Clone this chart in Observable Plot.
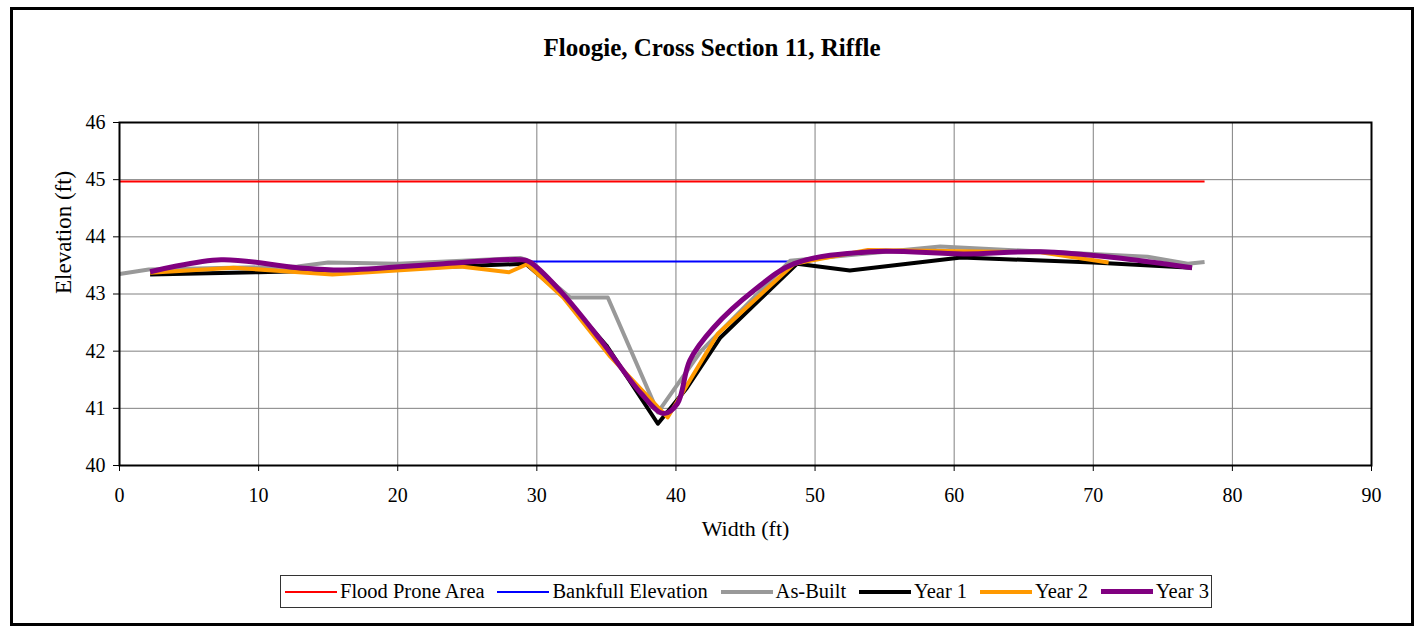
<!DOCTYPE html>
<html>
<head>
<meta charset="utf-8">
<script src="https://cdn.jsdelivr.net/npm/d3@7"></script>
<script src="https://cdn.jsdelivr.net/npm/@observablehq/plot@0.6"></script>
<style>
  html, body { margin: 0; padding: 0; background: #fff; }
  #wrap { position: relative; width: 1416px; height: 629px; overflow: hidden; font-family: "Liberation Serif", "Times New Roman", serif; }
  #outer { position: absolute; left: 10px; top: 7px; width: 1404px; height: 619px; box-sizing: border-box; border: 3px solid #000; }
  #title { position: absolute; left: 10px; width: 1404px; top: 34px; text-align: center; font-weight: bold; font-size: 25px; color: #000; }
  #chart { position: absolute; left: 0; top: 0; }
  #legend { position: absolute; left: 280px; top: 575px; width: 932px; height: 33px; box-sizing: border-box; border: 1.5px solid #333; display: flex; align-items: center; justify-content: space-between; padding: 0 2px 0 4px; font-size: 20.5px; color: #000; }
  .item { display: flex; align-items: center; }
  .sw { display: inline-block; width: 52px; margin-right: 3px; }
</style>
</head>
<body>
<div id="wrap">
  <div id="outer"></div>
  <div id="chart"></div>
  <div id="title">Floogie, Cross Section 11, Riffle</div>
  <div id="legend"></div>
</div>
<script>
// Axis ticks
const xTicks = [0, 10, 20, 30, 40, 50, 60, 70, 80, 90];
const yTicks = [40, 41, 42, 43, 44, 45, 46];

// Flood Prone Area
const floodX = [0, 2.1, 77, 78];
const floodY = [44.97, 44.97, 44.97, 44.97];

// Bankfull Elevation
const bankX = [29.2, 48.3];
const bankY = [43.57, 43.57];

// As-Built
const asBuiltX = [0, 2.1, 12.8, 15.0, 20.0, 28.8, 29.2, 32.4, 35.1, 38.7, 41.8, 48.2, 59.0, 73.9, 76.8, 78.0];
const asBuiltY = [43.35, 43.43, 43.48, 43.55, 43.53, 43.63, 43.60, 42.94, 42.94, 40.93, 42.0, 43.58, 43.83, 43.65, 43.53, 43.56];

// Year 1
const year1X = [2.2, 10, 20, 29.2, 31.9, 35.0, 38.7, 40.8, 43.2, 48.7, 52.5, 60.5, 70, 77.1];
const year1Y = [43.34, 43.38, 43.44, 43.53, 42.97, 42.1, 40.73, 41.36, 42.24, 43.53, 43.41, 43.64, 43.55, 43.46];

// Year 2
const year2X = [2.2, 8.2, 15.3, 24.5, 28.0, 29.3, 31.9, 35.3, 39.4, 43.0, 48.5, 53.8, 66.2, 71.1];
const year2Y = [43.37, 43.46, 43.34, 43.48, 43.38, 43.52, 42.94, 41.9, 40.84, 42.3, 43.53, 43.77, 43.73, 43.55];

// Year 3
const year3X = [2.2, 7.3, 12.8, 16.1, 23.3, 28.8, 29.5, 31.7, 34.6, 37.5, 39.1, 40.1, 41.0, 42.7, 45.6, 48.5, 54.0, 60.7, 66.2, 71.5, 77.1];
const year3Y = [43.39, 43.6, 43.46, 43.42, 43.53, 43.6, 43.56, 43.05, 42.19, 41.26, 40.91, 41.08, 41.84, 42.41, 43.06, 43.53, 43.74, 43.70, 43.74, 43.64, 43.46];

const seriesNames = ["Flood Prone Area", "Bankfull Elevation", "As-Built", "Year 1", "Year 2", "Year 3"];
const seriesColors = ["#FF0000", "#0000FF", "#999999", "#000000", "#FF9900", "#800080"];
const seriesWidths = [2, 2, 4, 4, 4, 5];
const seriesCurves = ["linear", "linear", "linear", "linear", "linear", "catmull-rom"];
const seriesXs = [floodX, bankX, asBuiltX, year1X, year2X, year3X];
const seriesYs = [floodY, bankY, asBuiltY, year1Y, year2Y, year3Y];

const toRows = (xs, ys) => xs.map((x, i) => ({x, y: ys[i]}));

const lineMarks = seriesNames.map((name, i) =>
  Plot.line(toRows(seriesXs[i], seriesYs[i]), {
    x: "x", y: "y",
    stroke: seriesColors[i],
    strokeWidth: seriesWidths[i],
    curve: seriesCurves[i],
    strokeLinejoin: "round",
    strokeLinecap: "butt"
  })
);

const chart = Plot.plot({
  width: 1416,
  height: 560,
  marginLeft: 119,
  marginRight: 45,
  marginTop: 122,
  marginBottom: 95,
  style: { fontFamily: "'Liberation Serif', 'Times New Roman', serif", background: "transparent", color: "#000" },
  x: { domain: [0, 90] },
  y: { domain: [40, 46] },
  marks: [
    Plot.gridX(xTicks, { stroke: "#808080", strokeOpacity: 1, strokeWidth: 1 }),
    Plot.gridY(yTicks, { stroke: "#808080", strokeOpacity: 1, strokeWidth: 1 }),
    Plot.axisX(xTicks, { tickSize: 6, tickPadding: 16, fontSize: 20, label: null, tickFormat: d => String(d) }),
    Plot.axisY(yTicks, { tickSize: 6, tickPadding: 8, fontSize: 20, label: null, tickFormat: d => String(d) }),
    ...lineMarks,
    Plot.frame({ stroke: "#000", strokeWidth: 2 }),
    Plot.text(["Width (ft)"], { frameAnchor: "bottom", dy: 70, fontSize: 22, fill: "#000" }),
    Plot.text(["Elevation (ft)"], { frameAnchor: "left", dx: -56, rotate: -90, fontSize: 23, fill: "#000" })
  ]
});
document.getElementById("chart").appendChild(chart);

const legend = document.getElementById("legend");
seriesNames.forEach((name, i) => {
  const item = document.createElement("div");
  item.className = "item";
  const sw = document.createElement("span");
  sw.className = "sw";
  sw.style.height = seriesWidths[i] + "px";
  sw.style.background = seriesColors[i];
  const t = document.createElement("span");
  t.textContent = name;
  item.appendChild(sw);
  item.appendChild(t);
  legend.appendChild(item);
});
</script>
</body>
</html>
